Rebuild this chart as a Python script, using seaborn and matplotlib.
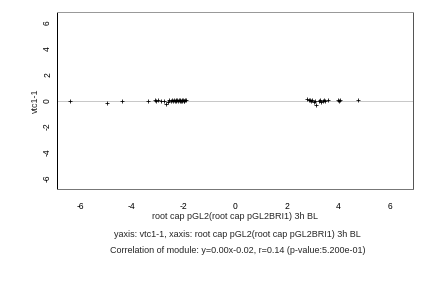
import numpy as np
import pandas as pd
import seaborn as sns
import matplotlib
matplotlib.use('Agg')
import matplotlib.pyplot as plt

# values
x_vals = [-6.38, -4.95, -4.37, -3.38, -3.12, -3.05, -2.97, -2.85, -2.75, -2.67,
          -2.6, -2.55, -2.5, -2.46, -2.42, -2.38, -2.33, -2.3, -2.27, -2.24,
          -2.2, -2.17, -2.14, -2.12, -2.1, -2.07, -2.05, -2.02, -1.99, -1.96,
          -1.93, -1.9,
          2.8, 2.85, 2.9, 2.95, 3.0, 3.05, 3.1, 3.15, 3.25, 3.3, 3.35, 3.4,
          3.45, 3.5, 3.6, 3.98, 4.02, 4.06, 4.77]
y_vals = [-0.02, -0.22, -0.03, -0.03, 0.05, 0.0, 0.04, -0.02, -0.05, -0.3,
          -0.08, 0.02, -0.05, 0.04, -0.06, 0.03, -0.04, 0.06, -0.02, 0.05,
          -0.07, 0.03, -0.05, 0.06, -0.03, 0.02, -0.06, 0.04, 0.0, -0.04,
          0.05, 0.02,
          0.08, 0.02, 0.06, -0.04, 0.05, -0.08, 0.0, -0.32, -0.06, 0.04,
          -0.1, -0.03, 0.05, -0.07, 0.06, 0.02, -0.03, 0.03, 0.02]
slope = 0.00
intercept = -0.02
ticks = [-6, -4, -2, 0, 2, 4, 6]

df = pd.DataFrame({'x': x_vals, 'y': y_vals})

sns.set_style('white')
plt.rcParams['font.family'] = ['Liberation Sans', 'DejaVu Sans']

fig = plt.figure(figsize=(6, 4), dpi=72)
ax = fig.add_axes([0.132, 0.344, 0.824, 0.614])

ax.axline((0, intercept), slope=slope, color='#c8c8c8', lw=1, zorder=1)
sns.scatterplot(data=df, x='x', y='y', marker='+', color='black', s=20,
                linewidth=0.8, ax=ax, zorder=2)

ax.set_xlim(-6.9, 6.9)
ax.set_ylim(-6.85, 6.85)
ax.set_xticks(ticks)
ax.set_yticks(ticks)
ax.set_xticklabels([str(t) for t in ticks], fontsize=8.5)
ax.set_yticklabels([str(t) for t in ticks], fontsize=8.5, rotation=90, va='center')
ax.tick_params(direction='out', length=3, width=0.8, colors='#333333')
ax.tick_params(axis='x', labelcolor='black', pad=10)
ax.tick_params(axis='y', labelcolor='black', pad=2)

ax.spines['left'].set_color('black')
ax.spines['bottom'].set_color('#777777')
ax.spines['top'].set_color('#999999')
ax.spines['right'].set_color('#555555')
for s in ax.spines.values():
    s.set_linewidth(1)

ax.set_xlabel('root cap pGL2(root cap pGL2BRI1) 3h BL', fontsize=9, labelpad=1)
ax.set_ylabel('vtc1-1', fontsize=9, labelpad=3)

fig.text(0.55, 0.186, 'yaxis: vtc1-1, xaxis: root cap pGL2(root cap pGL2BRI1) 3h BL',
         ha='center', va='center', fontsize=9)
fig.text(0.55, 0.13, 'Correlation of module: y=0.00x-0.02, r=0.14 (p-value:5.200e-01)',
         ha='center', va='center', fontsize=9)

fig.savefig('out.png', dpi=72)
